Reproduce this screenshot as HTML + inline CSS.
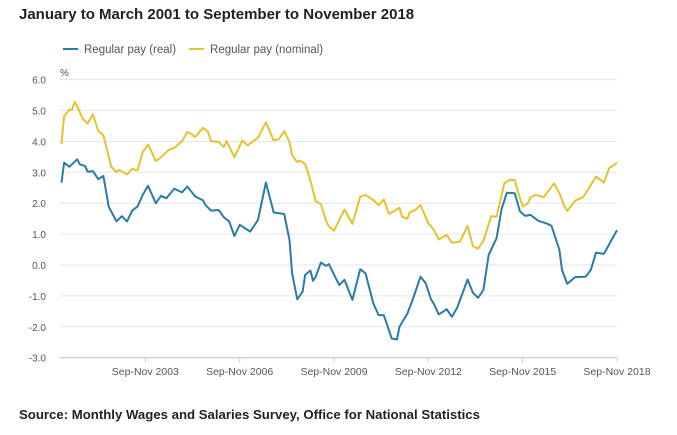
<!DOCTYPE html>
<html><head><meta charset="utf-8"><style>
body{margin:0;background:#fff;width:677px;height:430px;overflow:hidden;font-family:"Liberation Sans",sans-serif}
</style></head><body>
<svg id="chart" width="677" height="430" xmlns="http://www.w3.org/2000/svg">
<text x="19" y="19" font-size="15" font-weight="bold" fill="#222">January to March 2001 to September to November 2018</text>
<g>
<line x1="63" y1="49" x2="78" y2="49" stroke="#2a7ca6" stroke-width="2"/>
<text x="84" y="53" font-size="11.5" fill="#555">Regular pay (real)</text>
<line x1="189" y1="49" x2="204" y2="49" stroke="#e6c22e" stroke-width="2"/>
<text x="210" y="53" font-size="11.5" fill="#555">Regular pay (nominal)</text>
</g>
<text x="60" y="76" font-size="10" fill="#555">%</text>
<g id="grid"></g><g id="series"></g>
<text x="19" y="419" font-size="13.2" font-weight="bold" fill="#222">Source: Monthly Wages and Salaries Survey, Office for National Statistics</text>
</svg>
<script>
const yTicks=[6,5,4,3,2,1,0,-1,-2,-3];
const xTickMonths=[32,68,104,140,176,212];
const xTickLabels=["Sep-Nov 2003","Sep-Nov 2006","Sep-Nov 2009","Sep-Nov 2012","Sep-Nov 2015","Sep-Nov 2018"];
const realMonths=[0,1,3,6,7,9,10,12,14,16,18,21,23,25,27,29,31,33,36,38,40,43,46,48,51,54,55,57,60,62,64,66,68,72,75,78,81,85,87,88,90,92,93,95,96,97,99,101,102,105,106,108,111,114,116,119,121,123,126,128,129,132,134,137,139,141,142,144,147,149,151,155,157,159,161,163,166,168,170,173,175,177,179,182,185,187,190,191,193,196,200,202,204,207,212];
const realValues=[2.66,3.31,3.18,3.42,3.26,3.2,3.02,3.04,2.78,2.88,1.89,1.41,1.58,1.41,1.76,1.89,2.27,2.56,2.0,2.24,2.16,2.47,2.35,2.54,2.22,2.09,1.94,1.76,1.78,1.54,1.41,0.94,1.3,1.08,1.46,2.67,1.7,1.65,0.81,-0.27,-1.11,-0.86,-0.32,-0.18,-0.51,-0.38,0.08,-0.03,0.03,-0.48,-0.65,-0.48,-1.13,-0.14,-0.27,-1.24,-1.62,-1.62,-2.38,-2.41,-2.0,-1.57,-1.13,-0.38,-0.59,-1.11,-1.24,-1.6,-1.43,-1.68,-1.38,-0.47,-0.9,-1.06,-0.81,0.32,0.86,1.83,2.34,2.32,1.73,1.59,1.62,1.43,1.35,1.27,0.49,-0.16,-0.61,-0.39,-0.38,-0.16,0.4,0.36,1.13];
const nomMonths=[0,1,3,4,5,6,8,10,12,14,16,19,21,22,25,27,29,31,33,34,36,38,41,43,46,48,49,51,54,56,57,60,62,63,66,69,71,75,78,81,83,85,87,88,90,91,93,95,97,99,101,102,104,108,111,114,116,119,121,123,125,129,130,132,133,135,137,140,142,144,147,149,152,155,157,159,161,164,166,169,171,173,174,176,178,179,181,184,188,190,192,193,196,199,201,204,207,209,212];
const nomValues=[3.92,4.82,5.03,5.03,5.28,5.14,4.74,4.58,4.88,4.34,4.2,3.17,3.01,3.08,2.93,3.11,3.06,3.65,3.9,3.73,3.36,3.49,3.73,3.79,4.01,4.3,4.27,4.14,4.44,4.3,4.01,3.98,3.82,4.01,3.49,4.03,3.87,4.12,4.62,4.03,4.08,4.34,3.98,3.55,3.33,3.38,3.27,2.73,2.06,1.97,1.43,1.25,1.11,1.8,1.33,2.21,2.27,2.1,1.94,2.12,1.65,1.85,1.56,1.5,1.72,1.78,1.94,1.35,1.15,0.83,0.97,0.72,0.75,1.26,0.61,0.53,0.78,1.58,1.56,2.64,2.75,2.75,2.43,1.89,2.0,2.19,2.27,2.19,2.64,2.32,1.89,1.75,2.08,2.19,2.45,2.86,2.67,3.13,3.31];
const NS="http://www.w3.org/2000/svg";
const X0=61.5,X1=617,M0=0,M1=212,Y0=265,PX=30.9;
function xs(m){return X0+(m-M0)/(M1-M0)*(X1-X0);}
function ys(v){return Y0-v*PX;}
function mk(t,a,p){const e=document.createElementNS(NS,t);for(const k in a)e.setAttribute(k,a[k]);p.appendChild(e);return e;}
const grid=document.getElementById('grid');
yTicks.forEach(v=>{
  const l=mk('line',{x1:X0-2,x2:X1,y1:ys(v),y2:ys(v),stroke:v===-3?'#c9d3e0':'#e6e6e6','stroke-width':v===-3?1.5:1},grid);
  
  
  const t=mk('text',{x:46,y:ys(v)+4,'text-anchor':'end','font-size':10,fill:'#555'},grid);
  t.textContent=v.toFixed(1);
  
  
});
xTickMonths.forEach((m,i)=>{
  const l=mk('line',{x1:xs(m),x2:xs(m),y1:ys(-3),y2:ys(-3)+5,stroke:'#c9d3e0'},grid);
  
  
  const t=mk('text',{x:xs(m),y:375,'text-anchor':'middle','font-size':10.5,fill:'#555'},grid);
  t.textContent=xTickLabels[i];
  
  
});
const s=document.getElementById('series');
function line(ms,vs,c,name){
  const d=ms.map((m,i)=>(i?'L':'M')+xs(m).toFixed(1)+','+ys(vs[i]).toFixed(1)).join('');
  const p=mk('path',{d:d,fill:'none',stroke:c,'stroke-width':2,'stroke-linejoin':'round'},s);
  
  
}
line(nomMonths,nomValues,'#e6c22e','nominal-pay-line');
line(realMonths,realValues,'#2a7ca6','real-pay-line');
</script>
</body></html>
